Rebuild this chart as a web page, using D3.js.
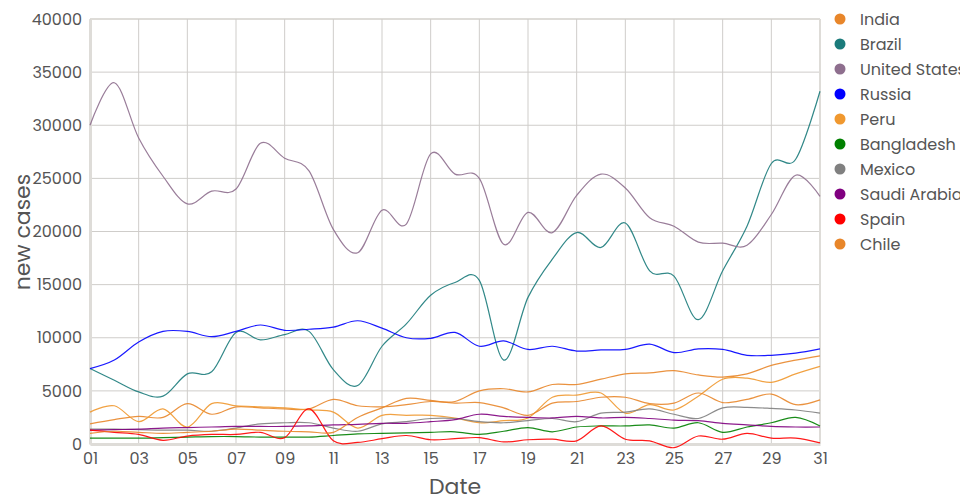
<!DOCTYPE html>
<html><head><meta charset="utf-8">
<script src="https://cdn.jsdelivr.net/npm/d3@7"></script>
<style>
body{margin:0;background:#fff;}
text{font-family:Poppins,"Open Sans","Noto Sans",sans-serif;fill:#555;}
</style></head>
<body><svg id="chart" width="960" height="500"></svg>
<script>
const days = ["01","02","03","04","05","06","07","08","09","10","11","12","13","14","15","16","17","18","19","20","21","22","23","24","25","26","27","28","29","30","31"];
const tickDays = ["01","03","05","07","09","11","13","15","17","19","21","23","25","27","29","31"];
const yTicks = [0,5000,10000,15000,20000,25000,30000,35000,40000];
const countries = ["India","Brazil","United States","Russia","Peru","Bangladesh","Mexico","Saudi Arabia","Spain","Chile"];
const colors = ["#e8862a","#1b7b7b","#8e6f8e","#0000ff","#f0982f","#008000","#808080","#800080","#ff0000","#e8862a"];

const india = [1900,2300,2600,2500,3800,2800,3500,3400,3300,3300,4200,3600,3500,3700,4000,4000,5000,5200,4900,5600,5600,6100,6600,6700,6900,6500,6300,6600,7400,7900,8300];
const brazil = [7100,6000,4900,4500,6600,6800,10500,9800,10300,10600,7000,5500,9200,11300,14000,15200,15400,7900,13800,17400,19900,18500,20800,16300,15800,11700,16300,20500,26400,26800,33200];
const unitedStates = [30000,34000,28800,25200,22600,23800,24000,28300,26900,25700,20200,18000,22000,20700,27300,25400,25000,18800,21800,19900,23400,25400,24100,21300,20500,19000,18900,18700,21600,25300,23300];
const russia = [7100,7900,9600,10600,10600,10100,10600,11200,10700,10800,11000,11600,10900,10000,9950,10500,9200,9700,8900,9200,8750,8850,8900,9400,8600,8950,8900,8350,8350,8550,8950];
const peru = [3000,3600,2100,3300,1600,3800,3600,3500,3400,3200,3000,1500,2700,2700,2700,2450,2000,2200,2450,4400,4600,4800,2900,3700,3200,4500,6100,6200,5800,6600,7300];
const bangladesh = [550,550,550,600,650,700,700,650,650,650,800,950,1000,1050,1100,1150,900,1200,1550,1150,1600,1700,1700,1800,1500,2000,1100,1600,2000,2500,1700];
const mexico = [1400,1400,1350,1300,1300,1200,1500,1900,2000,2000,1500,1200,1900,2100,2400,2400,2100,2000,2200,2400,2100,2900,3000,3300,2800,2400,3400,3450,3350,3200,2900];
const saudiArabia = [1300,1350,1400,1500,1550,1600,1650,1650,1650,1700,1800,1850,1950,1950,2100,2300,2800,2600,2500,2450,2600,2450,2500,2400,2250,2200,1950,1800,1650,1600,1600];
const spain = [1300,1100,900,350,750,900,900,1100,600,3300,300,150,500,800,400,500,600,200,400,450,300,1700,450,300,-350,750,450,1000,550,550,100];
const chile = [1000,1200,1100,1000,1100,1200,1400,1300,1200,1150,1100,2500,3400,4300,4100,3850,3900,3400,2700,3850,4000,4400,4400,3800,3850,4800,3900,4200,4700,3700,4150];

const seriesValues = [india,brazil,unitedStates,russia,peru,bangladesh,mexico,saudiArabia,spain,chile];

const svg = d3.select("#chart");
const m = {left:90, right:820, top:19, bottom:444};

const x = d3.scalePoint().domain(days).range([m.left, m.right]);
const y = d3.scaleLinear().domain([0,40000]).range([m.bottom, m.top]);

// grid
svg.append("g").selectAll("line").data(yTicks).join("line")
  .attr("x1", m.left).attr("x2", m.right)
  .attr("y1", d=>y(d)).attr("y2", d=>y(d))
  .attr("stroke", d => d===40000 ? "#dedcd8" : "#cfcdca").attr("stroke-width", d => d===40000 ? 2 : 1);
svg.append("g").selectAll("line").data(tickDays).join("line")
  .attr("y1", m.top).attr("y2", m.bottom)
  .attr("x1", d=>x(d)).attr("x2", d=>x(d))
  .attr("stroke", d => d==="31" ? "#dedcd8" : "#cfcdca").attr("stroke-width", d => d==="31" ? 2 : 1);

// axes
const xAxis = svg.append("g").attr("transform", `translate(0,${m.bottom})`)
  .call(d3.axisBottom(x).tickValues(tickDays).tickSize(0).tickPadding(9));
const yAxis = svg.append("g").attr("transform", `translate(${m.left},0)`)
  .call(d3.axisLeft(y).tickValues(yTicks).tickSize(0).tickPadding(8).tickFormat(d3.format("d")));
[xAxis,yAxis].forEach(a=>{
  a.select(".domain").attr("stroke","#dedcd8").attr("stroke-width",3);
  a.selectAll("text").style("font-size","16px").attr("fill","#555");
});

// lines
const line = d3.line().x((d,i)=>x(days[i])).y(d=>y(d)).curve(d3.curveCardinal);
svg.append("g").selectAll("path").data(seriesValues).join("path")
  .attr("d", d=>line(d)).attr("fill","none")
  .attr("stroke",(d,i)=>colors[i]).attr("stroke-width",1.2).attr("stroke-opacity",0.9);

// titles
svg.append("text").attr("transform","translate(30,232) rotate(-90)")
  .attr("text-anchor","middle").style("font-size","22px").text("new cases");
svg.append("text").attr("x",455).attr("y",494).attr("text-anchor","middle")
  .style("font-size","22px").text("Date");

// legend
const lg = svg.append("g").selectAll("g").data(countries).join("g")
  .attr("transform",(d,i)=>`translate(840,${19+i*25})`);
lg.append("circle").attr("r",5.5).attr("fill",(d,i)=>colors[i]);
lg.append("text").attr("x",20).attr("dy","0.35em").style("font-size","16px").text(d=>d);
</script></body></html>
